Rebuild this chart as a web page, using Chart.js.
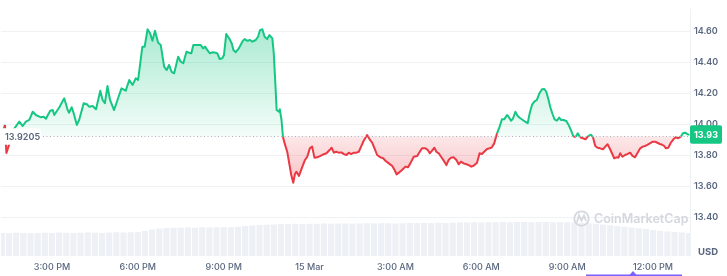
<!DOCTYPE html>
<html><head><meta charset="utf-8">
<script src="https://cdn.jsdelivr.net/npm/chart.js@4.4.1/dist/chart.umd.min.js"></script>
<style>html,body{margin:0;padding:0;background:#fff;}#wrap{position:relative;width:727px;height:276px;}</style>
</head><body><div id="wrap"><canvas id="c" width="727" height="276"></canvas></div>
<script>
const BASE = 13.9205;
const LAST = 13.93;
const TIMES = [13.22,13.36,13.41,13.69,13.86,13.98,14.09,14.21,14.33,14.44,14.62,14.71,14.79,14.94,15.03,15.08,15.26,15.43,15.55,15.60,15.69,15.76,15.87,15.95,16.11,16.22,16.30,16.42,16.54,16.69,16.77,16.85,16.94,17.03,17.17,17.31,17.43,17.58,17.70,17.82,17.93,18.01,18.16,18.24,18.34,18.43,18.51,18.60,18.71,18.80,18.92,19.01,19.09,19.18,19.27,19.41,19.50,19.59,19.70,19.79,19.87,19.94,20.08,20.20,20.28,20.35,20.43,20.52,20.61,20.72,20.78,20.86,20.95,21.01,21.09,21.19,21.28,21.34,21.42,21.53,21.65,21.73,21.83,21.92,22.00,22.12,22.20,22.27,22.35,22.43,22.52,22.60,22.70,22.75,22.81,22.85,22.93,22.96,23.02,23.07,23.13,23.22,23.31,23.36,23.43,23.49,23.54,23.63,23.75,23.84,23.92,24.01,24.09,24.17,24.27,24.38,24.50,24.59,24.70,24.77,24.85,24.93,25.02,25.11,25.20,25.29,25.37,25.45,25.55,25.64,25.72,25.80,25.89,26.01,26.10,26.19,26.27,26.36,26.48,26.57,26.65,26.77,26.89,26.97,27.04,27.12,27.23,27.35,27.44,27.52,27.64,27.76,27.85,27.93,28.05,28.13,28.20,28.28,28.36,28.43,28.51,28.63,28.71,28.78,28.86,28.94,29.03,29.13,29.21,29.29,29.38,29.48,29.56,29.65,29.73,29.85,29.94,30.02,30.10,30.20,30.29,30.37,30.45,30.55,30.64,30.72,30.80,30.90,30.95,31.04,31.11,31.19,31.27,31.36,31.45,31.53,31.62,31.69,31.77,31.85,31.94,32.03,32.12,32.20,32.27,32.35,32.41,32.49,32.56,32.64,32.72,32.79,32.87,32.97,33.05,33.13,33.22,33.30,33.37,33.45,33.55,33.64,33.74,33.83,33.90,33.98,34.06,34.15,34.25,34.33,34.41,34.50,34.58,34.64,34.73,34.79,34.85,34.93,35.02,35.10,35.20,35.28,35.37,35.45,35.55,35.64,35.72,35.80,35.89,35.99,36.07,36.15,36.24,36.32,36.39,36.45,36.53,36.62,36.71,36.79,36.88,36.97,37.04,37.12,37.20,37.27];
const PRICES = [13.925,13.994,13.813,13.972,14.015,13.987,14.015,14.026,14.079,14.058,14.043,14.047,14.034,14.086,14.090,14.058,14.108,14.166,14.090,14.073,14.108,14.069,13.994,14.026,14.134,14.127,14.112,14.116,14.095,14.215,14.155,14.134,14.245,14.155,14.090,14.166,14.230,14.215,14.284,14.252,14.295,14.284,14.499,14.499,14.611,14.585,14.537,14.602,14.525,14.510,14.370,14.348,14.381,14.337,14.327,14.434,14.402,14.392,14.466,14.460,14.456,14.510,14.510,14.510,14.488,14.499,14.477,14.456,14.463,14.460,14.456,14.419,14.424,14.445,14.581,14.553,14.521,14.477,14.463,14.488,14.531,14.548,14.537,14.542,14.531,14.542,14.563,14.606,14.611,14.563,14.548,14.574,14.553,14.456,14.241,14.090,14.079,14.095,14.026,13.918,13.875,13.821,13.725,13.671,13.621,13.677,13.692,13.665,13.725,13.768,13.789,13.843,13.854,13.783,13.785,13.794,13.805,13.811,13.832,13.847,13.815,13.821,13.815,13.817,13.806,13.800,13.815,13.806,13.815,13.815,13.821,13.854,13.892,13.929,13.901,13.879,13.843,13.800,13.785,13.779,13.763,13.746,13.729,13.703,13.675,13.686,13.703,13.725,13.721,13.746,13.789,13.794,13.821,13.843,13.843,13.832,13.811,13.828,13.847,13.821,13.811,13.779,13.757,13.735,13.768,13.783,13.785,13.768,13.740,13.757,13.746,13.740,13.735,13.725,13.731,13.750,13.811,13.806,13.821,13.839,13.843,13.850,13.875,13.940,13.983,14.030,14.030,14.058,14.047,14.021,14.037,14.079,14.052,14.037,14.026,14.015,14.005,14.069,14.123,14.144,14.155,14.198,14.224,14.226,14.208,14.155,14.108,14.063,14.030,14.021,14.041,14.026,14.026,14.019,13.994,13.961,13.918,13.918,13.940,13.914,13.908,13.901,13.923,13.931,13.914,13.858,13.847,13.843,13.837,13.854,13.869,13.837,13.805,13.779,13.785,13.783,13.811,13.789,13.800,13.806,13.815,13.794,13.785,13.811,13.843,13.854,13.858,13.865,13.875,13.886,13.886,13.879,13.871,13.866,13.858,13.843,13.847,13.879,13.901,13.914,13.908,13.918,13.940,13.944,13.935,13.930];
const X_TICKS = [15,18,21,24,27,30,33,36];
const X_LABELS = ['3:00 PM','6:00 PM','9:00 PM','15 Mar','3:00 AM','6:00 AM','9:00 AM','12:00 PM'];
const Y_TICKS = [13.4,13.6,13.8,14.0,14.2,14.4,14.6];
const VOL_START = 13.25, VOL_STEP = 0.25;
const VOLUMES = [9.0,8.9,9.1,9.0,8.9,9.0,9.1,9.0,9.2,9.1,9.0,9.1,9.2,9.1,9.0,9.2,9.3,9.2,9.3,9.4,
9.8,10.3,10.7,
10.9,11.0,11.0,11.1,11.0,11.2,11.1,11.2,11.3,11.2,11.4,
11.7,11.9,12.1,12.2,12.3,
12.5,12.5,12.6,12.5,12.6,12.6,12.7,12.6,12.7,12.7,12.6,12.7,12.8,12.7,12.8,12.8,12.7,12.8,12.9,12.8,12.9,12.9,13.0,12.9,13.0,
13.1,13.1,13.2,13.1,13.2,13.2,13.3,13.2,13.3,13.3,13.2,13.3,13.3,13.2,13.3,13.2,13.1,
13.0,12.8,12.6,12.3,12.0,11.7,11.4,11.1,
10.8,10.5,10.2,9.9,9.6,9.4,9.2,9.0];

if (TIMES.length !== PRICES.length) throw new Error('length mismatch ' + TIMES.length + ' vs ' + PRICES.length);

const GREEN = '#16c784', RED = '#ea3943';
const FONT = 'Inter, "Noto Sans", sans-serif';
const priceData = TIMES.map((t, i) => ({x: t, y: PRICES[i]}));
const volData = VOLUMES.map((v, i) => ({x: VOL_START + i * VOL_STEP, y: v}));

const overlay = {
  id: 'overlay',
  afterDatasetsDraw(chart) {
    const {ctx, chartArea: a, scales: {y}} = chart;
    const yb = y.getPixelForValue(BASE);
    ctx.save();
    ctx.strokeStyle = '#a9b2c1';
    ctx.lineWidth = 1;
    ctx.setLineDash([1, 2.5]);
    ctx.beginPath();
    ctx.moveTo(a.left, Math.round(yb) + 0.5);
    ctx.lineTo(a.right, Math.round(yb) + 0.5);
    ctx.stroke();
    ctx.setLineDash([]);
    // watermark
    ctx.strokeStyle = '#d3d7de';
    ctx.lineWidth = 1.8;
    ctx.beginPath();
    ctx.arc(581.5, 218.5, 7.2, 0, Math.PI * 2);
    ctx.stroke();
    ctx.beginPath();
    ctx.moveTo(577, 222);
    ctx.lineTo(579, 215.5);
    ctx.lineTo(581.5, 220.5);
    ctx.lineTo(584, 215.5);
    ctx.lineTo(586, 221);
    ctx.stroke();
    ctx.fillStyle = '#d3d7de';
    ctx.font = '600 12.5px ' + FONT;
    ctx.textBaseline = 'middle';
    ctx.textAlign = 'left';
    ctx.fillText('CoinMarketCap', 594, 219);
    ctx.restore();
  },
  afterDraw(chart) {
    const {ctx, chartArea: a, scales: {y}} = chart;
    const yb = y.getPixelForValue(BASE);
    ctx.save();
    // left baseline label
    ctx.fillStyle = '#ffffff';
    ctx.beginPath();
    ctx.roundRect(a.left, yb - 8, 40, 16.5, [0, 4, 4, 0]);
    ctx.fill();
    ctx.fillStyle = '#58667e';
    ctx.font = '600 9px ' + FONT;
    ctx.textBaseline = 'middle';
    ctx.textAlign = 'left';
    ctx.fillText(BASE.toFixed(4), a.left + 4, yb + 0.5);
    // right last price label
    const yl = y.getPixelForValue(LAST);
    ctx.fillStyle = GREEN;
    ctx.beginPath();
    ctx.roundRect(a.right, yl - 9.5, 32, 18.5, 2);
    ctx.fill();
    ctx.fillStyle = '#ffffff';
    ctx.font = '700 9px ' + FONT;
    ctx.textAlign = 'center';
    ctx.fillText(LAST.toFixed(2), a.right + 16, yl);
    // USD
    ctx.fillStyle = '#58667e';
    ctx.font = '700 9.5px ' + FONT;
    ctx.fillText('USD', 708, 252);
    // purple range bar
    ctx.fillStyle = '#7b61ff';
    ctx.fillRect(586, 274.5, 96, 2);
    ctx.beginPath();
    ctx.moveTo(629.5, 275);
    ctx.lineTo(633, 271);
    ctx.lineTo(636.5, 275);
    ctx.closePath();
    ctx.fill();
    ctx.restore();
  }
};

const chart = new Chart(document.getElementById('c'), {
  type: 'line',
  data: {
    datasets: [
      {
        type: 'line',
        data: priceData,
        xAxisID: 'x', yAxisID: 'y',
        borderWidth: 2,
        pointRadius: 0,
        tension: 0,
        borderJoinStyle: 'round',
        borderColor: GREEN,
        segment: {
          borderColor: c => ((c.p0.parsed.y + c.p1.parsed.y) / 2 >= BASE ? GREEN : RED)
        },
        fill: {target: {value: BASE}, above: 'rgba(22,199,132,0.15)', below: 'rgba(234,57,67,0.15)'},
        order: 0
      },
      {
        type: 'bar',
        data: volData,
        xAxisID: 'x', yAxisID: 'yv',
        backgroundColor: '#edf0f4',
        barPercentage: 0.86,
        categoryPercentage: 1,
        order: 1
      }
    ]
  },
  options: {
    responsive: false,
    animation: false,
    devicePixelRatio: 1,
    layout: {padding: 0},
    plugins: {legend: {display: false}, tooltip: {enabled: false}},
    scales: {
      x: {
        type: 'linear', min: 13.221, max: 37.29, offset: false,
        grid: {display: false, drawTicks: false}, border: {display: false},
        ticks: {autoSkip: false, maxRotation: 0, padding: 6, color: '#58667e',
          font: {family: FONT, size: 9, weight: '500'},
          callback: (v, i) => X_LABELS[i]},
        afterBuildTicks: s => { s.ticks = X_TICKS.map(v => ({value: v})); },
        afterFit: s => { s.height = 20; }
      },
      y: {
        type: 'linear', position: 'right', min: 13.1484, max: 14.7394,
        grid: {color: '#eff2f5', drawTicks: false},
        border: {display: true, color: '#eff2f5'},
        ticks: {padding: 4, color: '#58667e', font: {family: FONT, size: 9, weight: '600'},
          callback: v => Number(v).toFixed(2)},
        afterBuildTicks: s => { s.ticks = Y_TICKS.map(v => ({value: v})); },
        afterFit: s => { s.width = 37; }
      },
      yv: {type: 'linear', display: false, min: 0, max: 96.3}
    }
  },
  plugins: [overlay]
});

const ys = chart.scales.y, cx = chart.ctx;
const gUp = cx.createLinearGradient(0, ys.getPixelForValue(14.62), 0, ys.getPixelForValue(BASE));
gUp.addColorStop(0, 'rgba(22,199,132,0.36)');
gUp.addColorStop(1, 'rgba(22,199,132,0.05)');
const gDown = cx.createLinearGradient(0, ys.getPixelForValue(BASE), 0, ys.getPixelForValue(13.62));
gDown.addColorStop(0, 'rgba(234,57,67,0.12)');
gDown.addColorStop(1, 'rgba(234,57,67,0.30)');
chart.data.datasets[0].fill = {target: {value: BASE}, above: gUp, below: gDown};
chart.update('none');
</script></body></html>
